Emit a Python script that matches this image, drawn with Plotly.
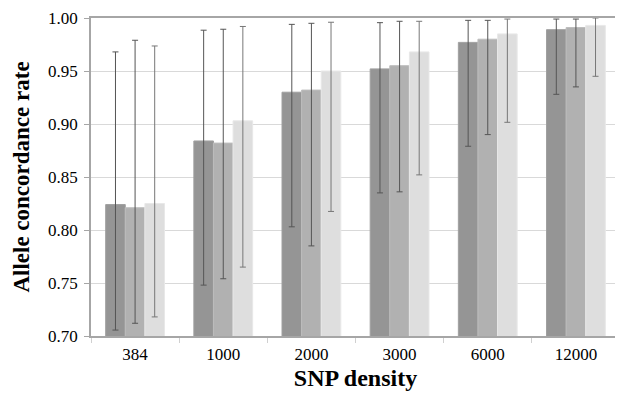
import plotly.graph_objects as go

categories = ["384", "1000", "2000", "3000", "6000", "12000"]
series_names = ["Series 1", "Series 2", "Series 3"]
means = [
    [0.824, 0.884, 0.930, 0.952, 0.977, 0.989],
    [0.821, 0.882, 0.932, 0.955, 0.980, 0.991],
    [0.825, 0.903, 0.950, 0.968, 0.985, 0.993],
]
upper = [
    [0.968, 0.9885, 0.994, 0.9956, 0.9978, 0.999],
    [0.979, 0.9894, 0.995, 0.9969, 0.9978, 0.999],
    [0.9736, 0.992, 0.996, 0.9969, 0.999, 1.000],
]
lower = [
    [0.7056, 0.748, 0.803, 0.835, 0.879, 0.928],
    [0.712, 0.754, 0.785, 0.836, 0.890, 0.935],
    [0.718, 0.765, 0.8175, 0.852, 0.9016, 0.945],
]
colors = ["#959595", "#b1b1b1", "#dedede"]
err_colors = ["#555555", "#555555", "#777777"]
line_colors = ["#a0a0a0", "#bdbdbd", "#e8e8e8"]

fig = go.Figure()
for i in range(3):
    fig.add_trace(go.Bar(
        x=categories, y=means[i], name=series_names[i],
        marker=dict(color=colors[i], line=dict(color=line_colors[i], width=1)),
        error_y=dict(
            type="data", symmetric=False,
            array=[u - m for u, m in zip(upper[i], means[i])],
            arrayminus=[m - l for m, l in zip(means[i], lower[i])],
            color=err_colors[i], thickness=1, width=3,
        ),
    ))

font_family = "Liberation Serif"
fig.update_layout(
    width=615, height=386,
    margin=dict(l=83, r=1, t=7, b=58),
    paper_bgcolor="white", plot_bgcolor="white",
    barmode="group", bargap=0.333, bargroupgap=0,
    showlegend=False,
    font=dict(family=font_family, size=17, color="black"),
    xaxis=dict(
        type="category",
        showline=True, linecolor="#a6a6a6", linewidth=1.5, mirror=True,
        ticks="outside", tickson="boundaries", ticklen=5, tickcolor="#d0d0d0",
        showgrid=False, ticklabelstandoff=2,
        title=dict(text="<b>SNP density</b>", font=dict(size=24, family=font_family), standoff=6),
        tickfont=dict(size=17, family=font_family),
    ),
    yaxis=dict(
        range=[0.70, 1.00], dtick=0.05, tickformat=".2f",
        showline=True, linecolor="#a6a6a6", linewidth=1.5, mirror=True,
        ticks="outside", ticklen=5, tickcolor="#a6a6a6",
        showgrid=True, gridcolor="#d9d9d9", gridwidth=1,
        zeroline=False, ticklabeloverflow="allow", ticklabelstandoff=3,
        title=dict(text="<b>Allele concordance rate</b>", font=dict(size=23, family=font_family), standoff=12),
        tickfont=dict(size=17, family=font_family),
    ),
)

fig.write_html("out.html")
